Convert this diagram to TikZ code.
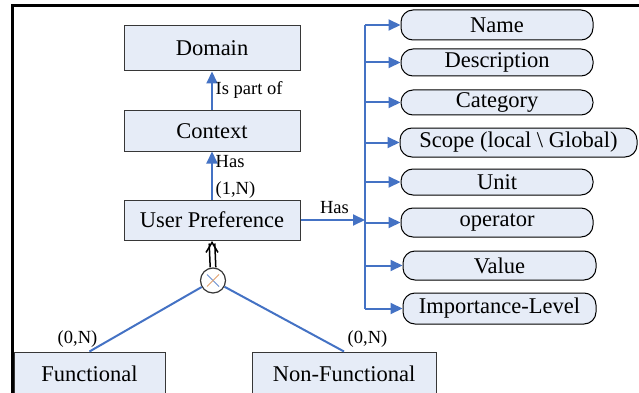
\documentclass[tikz,border=0pt]{standalone}
\usepackage{fontspec}
\setmainfont{Liberation Serif}
\usetikzlibrary{arrows.meta}
\definecolor{boxfill}{RGB}{230,236,247}
\definecolor{lineblue}{RGB}{68,114,196}
\definecolor{edgegray}{RGB}{55,55,55}
\definecolor{xorange}{RGB}{225,160,110}
\begin{document}
\begin{tikzpicture}[x=1pt,y=-1pt,
  box/.style={draw=edgegray, fill=boxfill, line width=1pt, inner sep=0pt, font=\fontsize{22.5}{24}\selectfont},
  attr/.style={draw=black, fill=boxfill, line width=1pt, inner sep=0pt, rounded corners=12pt, font=\fontsize{22.5}{24}\selectfont},
  arr/.style={draw=lineblue, line width=2pt, -{Triangle[length=12pt,width=11pt]}},
  bline/.style={draw=lineblue, line width=2pt},
  lbl/.style={font=\fontsize{18.5}{20}\selectfont, inner sep=0pt},
  dbl/.style={draw=black, line width=1.5pt},
]
\useasboundingbox (0,0) rectangle (639,393);
% frame
\draw[line width=3pt] (12.5,394) -- (12.5,5.3) -- (640,5.3);

% main boxes
\node[box, minimum width=176pt, minimum height=45pt] (domain) at (212,48.5) {Domain};
\node[box, minimum width=176pt, minimum height=40pt] (context) at (212,131) {Context};
\node[box, minimum width=176pt, minimum height=40pt] (up) at (212,220) {User Preference};
\node[box, minimum width=151pt, minimum height=44pt] (func) at (89.5,374) {Functional};
\node[box, minimum width=184pt, minimum height=44pt] (nfunc) at (344,374) {Non-Functional};

% attributes
\node[attr, minimum width=192pt, minimum height=30pt] (name) at (497,25) {Name};
\node[attr, minimum width=192pt, minimum height=27pt] (desc) at (497,62.5) {Description};
\node[attr, minimum width=192pt, minimum height=25pt] (cat) at (497,102.5) {Category};
\node[attr, minimum width=237pt, minimum height=29pt] (scope) at (518.5,142.5) {Scope (local \textbackslash\ Global)};
\node[attr, minimum width=192pt, minimum height=26pt] (unit) at (497,182) {Unit};
\node[attr, minimum width=192pt, minimum height=29pt] (op) at (497,222.5) {operator};
\node[attr, minimum width=193pt, minimum height=29pt] (value) at (499.5,265.5) {Value};
\node[attr, minimum width=193pt, minimum height=31pt] (imp) at (499.5,308.5) {Importance-Level};

% bus
\coordinate (bus) at (365,0);
\draw[bline] (bus |- name.west) -- (bus |- imp.west);
\foreach \n in {name,desc,cat,scope,unit,op,value,imp}
  \draw[arr] (\n.west -| bus) -- (\n.west);

% Has arrow
\draw[arr] (up.east) -- (up.east -| bus);
\node[lbl] (hasb) at (334.5,208) {Has};

% vertical arrows
\draw[arr] (context.north) -- (domain.south);
\node[lbl, anchor=west] (ispart) at (215.5,90) {Is part of};
\draw[arr] (up.north) -- (context.south);
\node[lbl, anchor=west] (hasa) at (215.5,162) {Has};
\node[lbl, anchor=west] (card1) at (215.5,190) {(1,N)};

% xor
\node[circle, draw=edgegray, line width=1.2pt, minimum size=25pt, inner sep=0pt, fill=white] (xor) at (213,280.5) {};
\draw[lineblue!80, line width=1pt] ([shift={(-6,-6)}]xor.center) -- ([shift={(6,6)}]xor.center);
\draw[xorange, line width=1pt] ([shift={(-6,6)}]xor.center) -- ([shift={(6,-6)}]xor.center);
% double arrow
\draw[dbl] ([xshift=-2.8pt]xor.north) -- ([xshift=-2.8pt,yshift=-3pt]up.south);
\draw[dbl] ([xshift=2.8pt]xor.north) -- ([xshift=2.8pt,yshift=-3pt]up.south);
\draw[dbl, line join=miter, -{Straight Barb[length=10pt,width=12pt]}] ([yshift=-2pt]up.south) -- ([yshift=-0.5pt]up.south);

\draw[bline] (func.north) -- (xor);
\draw[bline] (nfunc.north) -- (xor);
\node[lbl] (card2) at (77.5,339) {(0,N)};
\node[lbl] (card3) at (367.5,339) {(0,N)};
\end{tikzpicture}
\end{document}
